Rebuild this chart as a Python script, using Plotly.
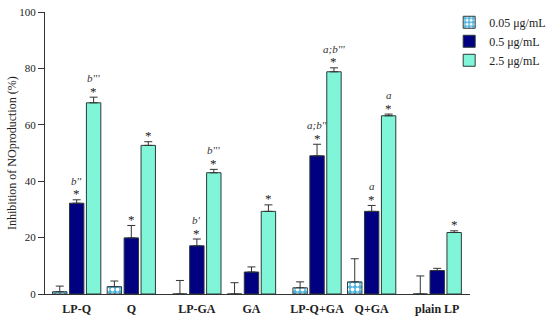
import plotly.graph_objects as go

groups = ["LP-Q", "Q", "LP-GA", "GA", "LP-Q+GA", "Q+GA", "plain LP"]
series_names = ["0.05 μg/mL", "0.5 μg/mL", "2.5 μg/mL"]

vals_005 = [0.8, 2.6, 0.0, 0.0, 2.2, 4.3, 0.0]
err_005 = [2.0, 2.0, 4.8, 4.0, 2.1, 8.2, 6.4]
vals_05 = [32.2, 19.9, 17.1, 7.8, 49.0, 29.3, 8.3]
err_05 = [1.2, 4.4, 2.4, 1.8, 4.1, 2.1, 0.8]
vals_25 = [67.8, 52.7, 43.0, 29.3, 78.8, 63.2, 21.8]
err_25 = [2.0, 1.3, 1.2, 2.3, 1.4, 0.6, 0.6]

star_05 = [True, True, True, False, True, True, False]
star_25 = [True, True, True, True, True, True, True]
letter_05 = ["b''", "", "b'", "", "a;b''", "a", ""]
letter_25 = ["b'''", "", "b'''", "", "a;b'''", "a", ""]

# group positions: pairs of groups with a slightly wider gap between pairs
pos = [i + 0.2 * (i // 2) for i in range(len(groups))]

FONT = "Liberation Serif"
BARGAP = 0.07
pitch = (1 - BARGAP) / 3
edge = "#2b3a3a"

fig = go.Figure()
fig.add_trace(go.Bar(
    x=pos, y=vals_005, name=series_names[0],
    marker=dict(color="#4cb3dd", line=dict(color=edge, width=1),
                pattern=dict(shape=".", bgcolor="#4cb3dd", fgcolor="white",
                             size=5, solidity=0.45, fillmode="replace")),
    error_y=dict(type="data", array=err_005, arrayminus=[0] * 7, symmetric=False,
                 color="#333333", thickness=1, width=4),
))
fig.add_trace(go.Bar(
    x=pos, y=vals_05, name=series_names[1],
    marker=dict(color="#000080", line=dict(color=edge, width=1)),
    error_y=dict(type="data", array=err_05, arrayminus=[0] * 7, symmetric=False,
                 color="#333333", thickness=1, width=4),
))
fig.add_trace(go.Bar(
    x=pos, y=vals_25, name=series_names[2],
    marker=dict(color="#80f5d8", line=dict(color=edge, width=1)),
    error_y=dict(type="data", array=err_25, arrayminus=[0] * 7, symmetric=False,
                 color="#333333", thickness=1, width=4),
))

annotations = []
for i in range(len(groups)):
    for off, vals, errs, stars, letters in [
        (0.0, vals_05, err_05, star_05, letter_05),
        (pitch, vals_25, err_25, star_25, letter_25),
    ]:
        top = vals[i] + errs[i]
        if stars[i]:
            annotations.append(dict(x=pos[i] + off, y=top, text="*", showarrow=False,
                                    xref="x", yref="y", yanchor="middle", yshift=6,
                                    font=dict(family=FONT, size=13, color="#222222")))
        if letters[i]:
            annotations.append(dict(x=pos[i] + off, y=top, text="<i>" + letters[i] + "</i>",
                                    showarrow=False, xref="x", yref="y", yanchor="middle",
                                    yshift=19, font=dict(family=FONT, size=11, color="#333333")))

annotations.append(dict(x=-33 / 425, y=0.5, xref="paper", yref="paper",
                        text="Inhibition of NOproduction (%)", textangle=-90,
                        showarrow=False, xanchor="center", yanchor="middle",
                        font=dict(family=FONT, size=12, color="#222222")))

fig.update_layout(
    width=550, height=321,
    margin=dict(l=45, r=80, t=12, b=27, autoexpand=False),
    paper_bgcolor="white", plot_bgcolor="white",
    barmode="group", bargap=BARGAP, bargroupgap=0.15,
    font=dict(family=FONT, color="#222222"),
    xaxis=dict(range=[-0.58, 7.2], tickvals=pos, ticktext=["<b>" + g + "</b>" for g in groups],
               tickfont=dict(family=FONT, size=12, color="#222222"),
               showline=True, linecolor="#333333", linewidth=1, ticks="",
               ticklabelstandoff=4,
               showgrid=False, zeroline=False),
    yaxis=dict(range=[0, 100], tickvals=[0, 20, 40, 60, 80, 100],
               tickfont=dict(family=FONT, size=11, color="#222222"),
               showline=True, linecolor="#333333", linewidth=1, ticks="outside",
               ticklen=6, tickcolor="#333333", showgrid=False, zeroline=False),
    legend=dict(x=0.951, y=1.015, xanchor="left", yanchor="top",
                font=dict(family=FONT, size=12, color="#222222"),
                bgcolor="rgba(0,0,0,0)"),
    annotations=annotations,
    showlegend=True,
)

fig.write_html("out.html", config={"displayModeBar": False},
               post_script="document.body.style.margin='0px';")
